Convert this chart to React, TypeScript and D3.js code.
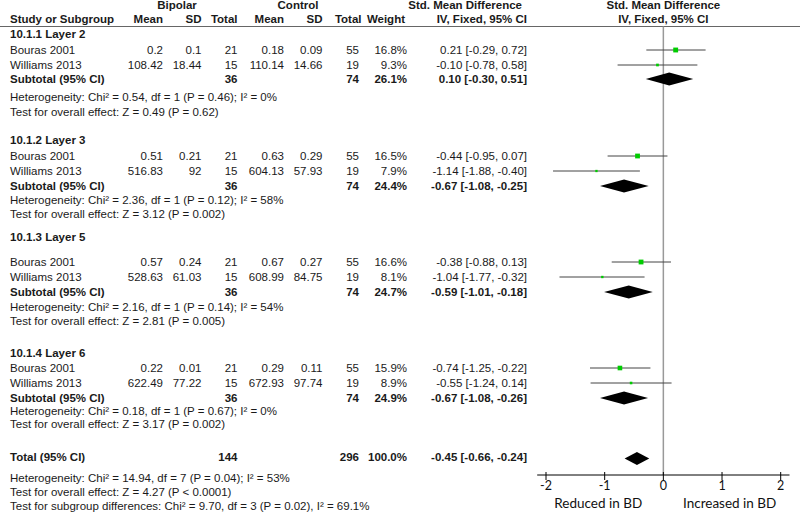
import React from "react";
import * as d3 from "d3";

// ---------- data ----------
const groupNames = ["10.1.1 Layer 2", "10.1.2 Layer 3", "10.1.3 Layer 5", "10.1.4 Layer 6"];
const studyNames = ["Bouras 2001", "Williams 2013"];

// per study, in order group1 (Bouras, Williams), group2 ...
const bipMean = ["0.2", "108.42", "0.51", "516.83", "0.57", "528.63", "0.22", "622.49"];
const bipSD = ["0.1", "18.44", "0.21", "92", "0.24", "61.03", "0.01", "77.22"];
const bipN = [21, 15, 21, 15, 21, 15, 21, 15];
const ctlMean = ["0.18", "110.14", "0.63", "604.13", "0.67", "608.99", "0.29", "672.93"];
const ctlSD = ["0.09", "14.66", "0.29", "57.93", "0.27", "84.75", "0.11", "97.74"];
const ctlN = [55, 19, 55, 19, 55, 19, 55, 19];
const studyWeight = [16.8, 9.3, 16.5, 7.9, 16.6, 8.1, 15.9, 8.9];
const studySMD = [0.21, -0.1, -0.44, -1.14, -0.38, -1.04, -0.74, -0.55];
const studyLo = [-0.29, -0.78, -0.95, -1.88, -0.88, -1.77, -1.25, -1.24];
const studyHi = [0.72, 0.58, 0.07, -0.4, 0.13, -0.32, -0.22, 0.14];

const subBipN = [36, 36, 36, 36];
const subCtlN = [74, 74, 74, 74];
const subWeight = [26.1, 24.4, 24.7, 24.9];
const subSMD = [0.1, -0.67, -0.59, -0.67];
const subLo = [-0.3, -1.08, -1.01, -1.08];
const subHi = [0.51, -0.25, -0.18, -0.26];
const hetChi = ["0.54", "2.36", "2.16", "0.18"];
const hetP = ["0.46", "0.12", "0.14", "0.67"];
const hetI2 = ["0", "58", "54", "0"];
const zVal = ["0.49", "3.12", "2.81", "3.17"];
const zP = ["0.62", "0.002", "0.005", "0.002"];

const totalBipN = 144;
const totalCtlN = 296;
const totalWeight = 100.0;
const totalSMD = -0.45;
const totalLo = -0.66;
const totalHi = -0.24;
const totalHet = "Heterogeneity: Chi² = 14.94, df = 7 (P = 0.04); I² = 53%";
const totalZ = "Test for overall effect: Z = 4.27 (P < 0.0001)";
const subgroupDiff = "Test for subgroup differences: Chi² = 9.70, df = 3 (P = 0.02), I² = 69.1%";

const axisTicks = [-2, -1, 0, 1, 2];
const favourLeft = "Reduced in BD";
const favourRight = "Increased in BD";

// ---------- layout ----------
const W = 800;
const H = 512;
const headerY = [34, 140, 237, 353];
const studyY = [50, 65, 156, 171, 262, 277, 368, 383];
const subY = [79, 186, 292, 398];
const hetY = [97, 200, 307, 411];
const testY = [112, 214, 321, 424];
const totalY = 457;
const totalHetY = 478;
const totalZY = 492;
const subgroupY = 506;
const axisY = 475;

const colX = {
  study: 10,
  bipMean: 163,
  bipSD: 201.5,
  bipN: 237.5,
  ctlMean: 284,
  ctlSD: 322.5,
  ctlN: 359,
  weight: 407,
  ci: 527,
};

const FONT = "'Liberation Sans', Arial, sans-serif";
const AXFONT = "Lato, 'Open Sans', sans-serif";
const FS = 11.5;

const fmt2 = (v: number) => v.toFixed(2);
const ciText = (m: number, l: number, h: number) => `${fmt2(m)} [${fmt2(l)}, ${fmt2(h)}]`;

export default function App() {
  const x = d3.scaleLinear().domain([-2, 2]).range([546, 780.7]);
  const [d0, d1] = [-2.15, 2.15];
  const green = "#00cc00";
  const lineCol = "#444";

  const T = (
    px: number,
    py: number,
    s: string | number,
    anchor: "start" | "end" | "middle" = "end",
    bold = false,
    key?: string
  ) => (
    <text
      key={key}
      x={px}
      y={py}
      dy="0.36em"
      textAnchor={anchor}
      fontFamily={FONT}
      fontSize={FS}
      fontWeight={bold ? "bold" : "normal"}
      fill="#1a1a1a"
    >
      {s}
    </text>
  );

  const diamond = (m: number, l: number, h: number, y: number, key: string) => (
    <path
      key={key}
      d={`M${x(l)},${y} L${x(m)},${y - 6.5} L${x(h)},${y} L${x(m)},${y + 6.5} Z`}
      fill="#000"
    />
  );

  const elems: React.ReactNode[] = [];
  groupNames.forEach((g, gi) => {
    elems.push(T(colX.study, headerY[gi], g, "start", true, `h${gi}`));
    for (let k = 0; k < 2; k++) {
      const i = gi * 2 + k;
      const y = studyY[i];
      elems.push(T(colX.study, y, studyNames[k], "start", false, `sn${i}`));
      elems.push(T(colX.bipMean, y, bipMean[i], "end", false, `bm${i}`));
      elems.push(T(colX.bipSD, y, bipSD[i], "end", false, `bs${i}`));
      elems.push(T(colX.bipN, y, bipN[i], "end", false, `bn${i}`));
      elems.push(T(colX.ctlMean, y, ctlMean[i], "end", false, `cm${i}`));
      elems.push(T(colX.ctlSD, y, ctlSD[i], "end", false, `cs${i}`));
      elems.push(T(colX.ctlN, y, ctlN[i], "end", false, `cn${i}`));
      elems.push(T(colX.weight, y, `${studyWeight[i].toFixed(1)}%`, "end", false, `w${i}`));
      elems.push(T(colX.ci, y, ciText(studySMD[i], studyLo[i], studyHi[i]), "end", false, `ci${i}`));
      // forest marks
      elems.push(
        <line
          key={`l${i}`}
          x1={x(studyLo[i])}
          x2={x(studyHi[i])}
          y1={y}
          y2={y}
          stroke={lineCol}
          strokeWidth={1}
        />
      );
      const sz = studyWeight[i] * 0.29;
      elems.push(
        <rect
          key={`sq${i}`}
          x={x(studySMD[i]) - sz / 2}
          y={y - sz / 2}
          width={sz}
          height={sz}
          fill={green}
        />
      );
    }
    const sy = subY[gi];
    elems.push(T(colX.study, sy, "Subtotal (95% CI)", "start", true, `st${gi}`));
    elems.push(T(colX.bipN, sy, subBipN[gi], "end", true, `sbn${gi}`));
    elems.push(T(colX.ctlN, sy, subCtlN[gi], "end", true, `scn${gi}`));
    elems.push(T(colX.weight, sy, `${subWeight[gi].toFixed(1)}%`, "end", true, `sw${gi}`));
    elems.push(T(colX.ci, sy, ciText(subSMD[gi], subLo[gi], subHi[gi]), "end", true, `sci${gi}`));
    elems.push(diamond(subSMD[gi], subLo[gi], subHi[gi], sy, `sd${gi}`));
    elems.push(
      T(
        colX.study,
        hetY[gi],
        `Heterogeneity: Chi² = ${hetChi[gi]}, df = 1 (P = ${hetP[gi]}); I² = ${hetI2[gi]}%`,
        "start",
        false,
        `het${gi}`
      )
    );
    elems.push(
      T(colX.study, testY[gi], `Test for overall effect: Z = ${zVal[gi]} (P = ${zP[gi]})`, "start", false, `z${gi}`)
    );
  });

  return (
    <svg width={W} height={H} style={{ position: "absolute", left: 0, top: 0, background: "#fff" }}>
      <rect width={W} height={H} fill="#fff" />
      {/* headers */}
      {T(177, 5, "Bipolar", "middle", true)}
      {T(298, 5, "Control", "middle", true)}
      {T(522, 5, "Std. Mean Difference", "end", true)}
      {T(x(0), 5, "Std. Mean Difference", "middle", true)}
      {T(colX.study, 19, "Study or Subgroup", "start", true)}
      {T(colX.bipMean, 19, "Mean", "end", true)}
      {T(colX.bipSD, 19, "SD", "end", true)}
      {T(colX.bipN, 19, "Total", "end", true)}
      {T(colX.ctlMean, 19, "Mean", "end", true)}
      {T(colX.ctlSD, 19, "SD", "end", true)}
      {T(361.5, 19, "Total", "end", true)}
      {T(405, 19, "Weight", "end", true)}
      {T(colX.ci, 19, "IV, Fixed, 95% CI", "end", true)}
      {T(x(0), 19, "IV, Fixed, 95% CI", "middle", true)}
      <line x1={0} x2={W} y1={26.5} y2={26.5} stroke="#666" strokeWidth={1} />

      {/* zero line */}
      <line x1={x(0)} x2={x(0)} y1={26.5} y2={axisY} stroke="#999" strokeWidth={1.5} />

      {elems}

      {/* total */}
      {T(colX.study, totalY, "Total (95% CI)", "start", true)}
      {T(colX.bipN, totalY, totalBipN, "end", true)}
      {T(colX.ctlN, totalY, totalCtlN, "end", true)}
      {T(colX.weight, totalY, `${totalWeight.toFixed(1)}%`, "end", true)}
      {T(colX.ci, totalY, ciText(totalSMD, totalLo, totalHi), "end", true)}
      {diamond(totalSMD, totalLo, totalHi, totalY + 1.5, "tot")}
      {T(colX.study, totalHetY, totalHet, "start")}
      {T(colX.study, totalZY, totalZ, "start")}
      {T(colX.study, subgroupY, subgroupDiff, "start")}

      {/* axis */}
      <line x1={x(d0)} x2={x(d1)} y1={axisY} y2={axisY} stroke="#000" strokeWidth={1} />
      {axisTicks.map((t) => (
        <g key={`t${t}`}>
          <line x1={x(t)} x2={x(t)} y1={axisY - 3} y2={axisY + 5} stroke="#000" strokeWidth={1} />
          <text
            x={x(t)}
            y={axisY + 10}
            dy="0.36em"
            textAnchor="middle"
            fontFamily={AXFONT}
            fontSize={12.5}
            fill="#111"
          >
            {t}
          </text>
        </g>
      ))}
      <text x={x(-1.11)} y={axisY + 28} dy="0.36em" textAnchor="middle" fontFamily={AXFONT} fontSize={13.5} fill="#111">
        {favourLeft}
      </text>
      <text x={x(1.13)} y={axisY + 28} dy="0.36em" textAnchor="middle" fontFamily={AXFONT} fontSize={13.5} fill="#111">
        {favourRight}
      </text>
    </svg>
  );
}
